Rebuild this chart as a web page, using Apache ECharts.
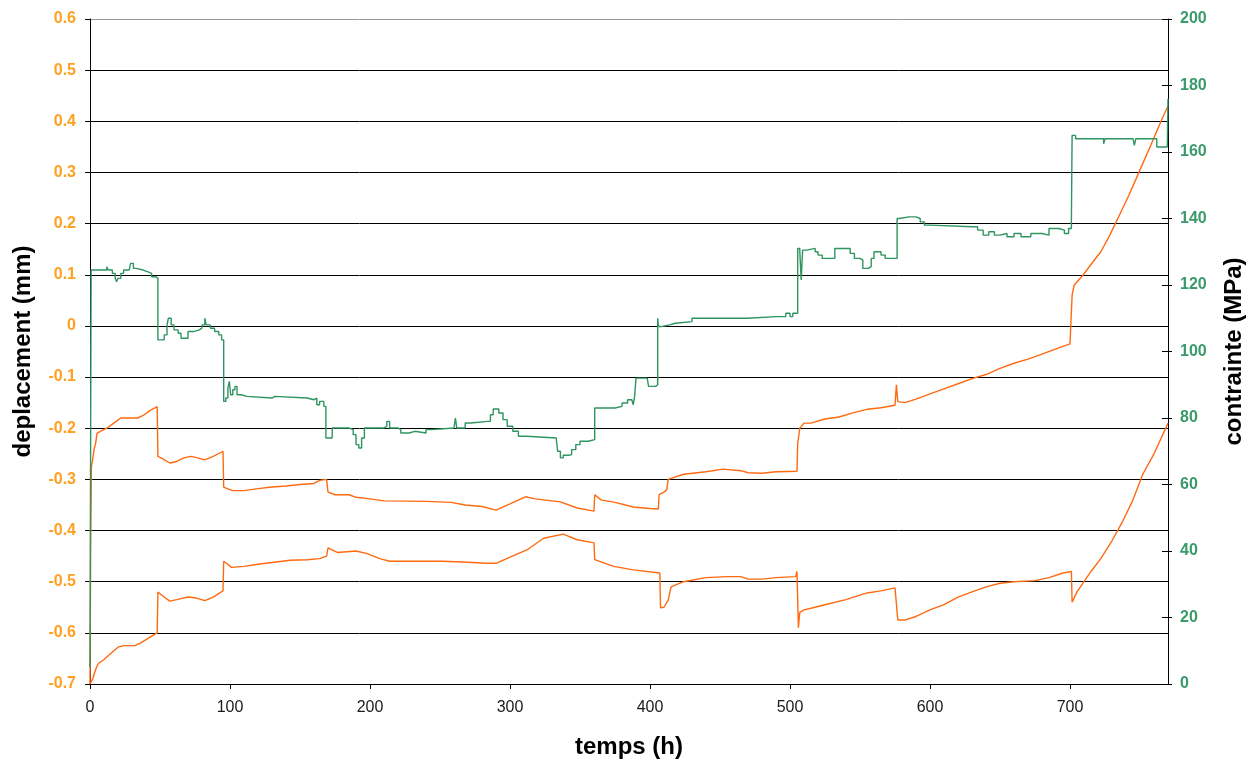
<!DOCTYPE html>
<html>
<head>
<meta charset="utf-8">
<script src="https://cdn.jsdelivr.net/npm/echarts@6/dist/echarts.min.js"></script>
<style>
html,body{margin:0;padding:0;background:#fff;}
#chart{width:1257px;height:765px;}
</style>
</head>
<body>
<div id="chart"></div>
<script>
// Axis settings (values)
const xRange = [0, 770];
const leftRange = [-0.7, 0.6];
const rightRange = [0, 200];

// contrainte (MPa) vs temps (h) - right axis (value held until next time)
const contrainte = [
[0,5],[0.8,124.5],[8,124.5],[12,125.5],[13,124.5],[16,123.5],[18,122],[19,121],[20,122],[22,123.5],[24,124.5],[28,125],[29,126.5],[31,125],[33,124.5],[38,124],[41,123.5],[44,122.5],[47,122],
[48.5,103.5],[53,105],[55,108],[56,110],[58,108],[60,106.5],[63,105.5],[65,104],[68,104],[70,106],[74,106.5],[78,107],[80,108],[82,110],[83,108],[86,107],[89,106],[92,105],[94,103.5],
[95.5,85],[97,86],[98.5,89],[99.5,91],[100.5,87],[102,88.5],[103.5,89.5],[105,87],[108,86.5],[112,86],[130,86],[131,86.5],[132,86],[155,86],[156,85.5],[160,86],[162,84],[164,85],[167,83.5],
[168.5,74],[173,77],[185,76.5],[188,75],[190,72],[192,71],[194,74],[196,77],[210,77.5],[212,79],[214,77],[220,76.5],[222,75.5],[228,76],[232,75.5],[240,76.5],[244,77],[260,77],[261,80],[262,77],[266,77],[268,78.5],[272,79],[284,79],[286,81],[288,82.7],[292,81.5],[295,79.5],[298,77.5],[302,76],[306,74.5],[312,74],
[333,74],[334,70],[336,68],[338,68.8],[342,69],[344,70.5],[347,72],[350,73],[356,73.5],
[360.5,83],[375,83.5],[380,84.5],[384,85.5],[387,86],[388,84],[389,86.5],[390,92],[398,92],[399,89.5],[404,90],
[405.5,110],[406,107.5],[408,108],[414,108.5],[418,109],[430,110],[445,110],[470,110.5],[490,110.5],[497,111.5],[500,110.5],[502,111.5],
[505.5,131],[507,130],[508,121.5],[509,130.5],[512,131],[518,130],[520,129],[523,128],[530,128],[532,131],[541,131],[543,129.5],[546,128],[550,127.5],[552,125],[556,125.5],[558,128],[560,130],[565,129],[568,128],
[576.5,140],[578,140.5],[585,140.5],[590,140],[593,139],[596,138],[600,137.5],[630,137.5],[634,136.5],[638,135],[642,136],[646,135],[650,135.5],[655,134.5],[660,135.5],[665,134.5],[672,135.5],[680,135],[685,137],[692,136.5],[696,135.5],[699,137],[701,139],
[701.5,165],[704,164],[720,164],[724,162.5],[725,164],[745,164],[746,162],[747,164],[760,164],[762,161.5],[769.5,161.5],[770,176]
];

// deplacement (mm) - upper curve, left axis
const deplacementHaut = [
[0,-0.7],[0.5,-0.42],[1,-0.275],[2,-0.26],[3,-0.24],[4,-0.23],[5,-0.21],[8,-0.205],[12,-0.2],[17,-0.19],[22,-0.18],[28,-0.18],[34,-0.18],[38,-0.175],[43,-0.165],[48,-0.158],
[48.5,-0.255],[52,-0.26],[57,-0.268],[62,-0.265],[67,-0.258],[72,-0.255],[77,-0.258],[82,-0.262],[88,-0.255],[95,-0.245],
[95.5,-0.315],[98,-0.318],[102,-0.322],[110,-0.322],[120,-0.318],[130,-0.315],[140,-0.313],[150,-0.31],[160,-0.308],[164,-0.302],[169,-0.3],
[170,-0.325],[175,-0.33],[185,-0.33],[190,-0.335],[200,-0.338],[210,-0.342],[240,-0.343],[258,-0.345],[268,-0.35],[280,-0.353],[290,-0.36],[300,-0.348],[311,-0.334],[318,-0.338],[324,-0.34],[336,-0.344],[348,-0.356],[360,-0.362],
[360.5,-0.33],[365,-0.34],[375,-0.345],[388,-0.354],[400,-0.357],[406,-0.358],[406.5,-0.33],[410,-0.325],[412,-0.32],[413,-0.3],[424,-0.29],[440,-0.285],[452,-0.28],[465,-0.283],[470,-0.287],[480,-0.288],[490,-0.285],[505,-0.284],
[505.5,-0.23],[507,-0.2],[510,-0.19],[515,-0.19],[525,-0.182],[535,-0.178],[545,-0.17],[555,-0.163],[565,-0.16],[575,-0.155],[576,-0.115],[577,-0.148],[582,-0.15],[590,-0.143],[600,-0.133],[610,-0.123],[620,-0.113],[630,-0.103],[640,-0.095],[650,-0.083],[660,-0.073],[670,-0.065],[680,-0.055],[690,-0.045],[700,-0.035],[701,-0.033],
[701.5,0.06],[703,0.08],[708,0.095],[715,0.12],[722,0.145],[728,0.175],[735,0.215],[742,0.255],[750,0.305],[758,0.355],[765,0.4],[770,0.43]
];

// deplacement (mm) - lower curve, left axis
const deplacementBas = [
[0,-0.7],[1,-0.7],[2,-0.69],[3,-0.68],[5,-0.665],[6,-0.66],[10,-0.652],[15,-0.64],[20,-0.628],[24,-0.625],[32,-0.625],[36,-0.62],[42,-0.61],[48,-0.6],
[48.5,-0.52],[52,-0.528],[57,-0.538],[62,-0.535],[70,-0.53],[76,-0.532],[82,-0.537],[88,-0.53],[95,-0.518],
[95.5,-0.46],[98,-0.465],[101,-0.472],[110,-0.47],[120,-0.466],[143,-0.458],[155,-0.457],[164,-0.455],[169,-0.45],
[170,-0.434],[177,-0.443],[190,-0.44],[198,-0.445],[207,-0.455],[214,-0.46],[252,-0.46],[270,-0.462],[283,-0.464],[290,-0.464],[300,-0.452],[312,-0.438],[324,-0.415],[338,-0.407],[348,-0.418],[360,-0.424],
[360.5,-0.457],[374,-0.47],[388,-0.477],[407,-0.483],[407.5,-0.551],[410,-0.55],[413,-0.536],[415,-0.51],[424,-0.5],[440,-0.492],[455,-0.49],[465,-0.49],[470,-0.495],[480,-0.495],[490,-0.492],[504,-0.49],[505,-0.48],
[506,-0.59],[507,-0.56],[510,-0.555],[515,-0.552],[525,-0.545],[540,-0.535],[555,-0.522],[565,-0.518],[575,-0.512],
[577,-0.575],[582,-0.575],[590,-0.568],[600,-0.555],[610,-0.545],[620,-0.53],[630,-0.52],[640,-0.51],[650,-0.503],[660,-0.5],[675,-0.498],[685,-0.492],[695,-0.483],[701,-0.48],
[701.5,-0.54],[705,-0.52],[710,-0.5],[715,-0.48],[722,-0.455],[730,-0.42],[738,-0.38],[745,-0.34],[752,-0.29],[760,-0.25],[765,-0.22],[770,-0.19]
];

const ORANGE_LINE = '#FF6A10';
const ORANGE_TEXT = '#FFA020';
const GREEN_LINE = '#2E9560';
const GREEN_TEXT = '#3A9A6A';
const FONT = '"Liberation Sans", Arial, sans-serif';
const gridColors = ['#000','#000','#000','#000','#000','#000','#000','#000','#000','#000','#000','#000','#000','#999'];

const chart = echarts.init(document.getElementById('chart'), null, {renderer: 'canvas'});
chart.setOption({
  animation: false,
  backgroundColor: '#fff',
  grid: {left: 90, right: 89, top: 19, bottom: 81, containLabel: false},
  xAxis: {
    type: 'value', min: xRange[0], max: xRange[1], interval: 100,
    name: 'temps (h)', nameLocation: 'middle', nameGap: 51,
    nameTextStyle: {fontFamily: FONT, fontWeight: 'bold', fontSize: 24, color: '#000'},
    axisLine: {show: true, onZero: false, lineStyle: {color: '#000', width: 1}},
    axisTick: {show: true, length: 5, lineStyle: {color: '#000'}},
    axisLabel: {fontFamily: FONT, fontSize: 16, color: '#1a1a1a', margin: 16, showMaxLabel: false},
    splitLine: {show: false}
  },
  yAxis: [
    {
      type: 'value', min: leftRange[0], max: leftRange[1], interval: 0.1, position: 'left',
      name: 'deplacement (mm)', nameLocation: 'middle', nameGap: 55,
      nameTextStyle: {fontFamily: FONT, fontWeight: 'bold', fontSize: 24, color: '#000'},
      axisLine: {show: true, onZero: false, lineStyle: {color: '#000', width: 1}},
      axisTick: {show: true, length: 5, lineStyle: {color: '#000'}},
      axisLabel: {fontFamily: FONT, fontSize: 16, fontWeight: 'bold', color: ORANGE_TEXT, margin: 14,
        formatter: v => Math.abs(v) < 1e-9 ? '0' : v.toFixed(1)},
      splitLine: {show: true, lineStyle: {color: gridColors, width: 1}}
    },
    {
      type: 'value', min: rightRange[0], max: rightRange[1], interval: 20, position: 'right',
      name: 'contrainte (MPa)', nameLocation: 'middle', nameGap: 54, nameRotate: 90,
      nameTextStyle: {fontFamily: FONT, fontWeight: 'bold', fontSize: 24, color: '#000'},
      axisLine: {show: true, onZero: false, lineStyle: {color: '#000', width: 1}},
      axisTick: {show: true, length: 4, lineStyle: {color: '#000'}},
      axisLabel: {fontFamily: FONT, fontSize: 16, fontWeight: 'bold', color: GREEN_TEXT, margin: 12},
      splitLine: {show: false}
    },
    {
      type: 'value', min: rightRange[0], max: rightRange[1], interval: 20, position: 'right',
      axisLine: {show: false, onZero: false},
      axisTick: {show: true, inside: true, length: 6, lineStyle: {color: '#000'}},
      axisLabel: {show: false},
      splitLine: {show: false}
    }
  ],
  series: [
    {type: 'line', name: 'deplacement haut', yAxisIndex: 0, data: deplacementHaut, showSymbol: false, symbol: 'none',
      lineStyle: {color: ORANGE_LINE, width: 1.4}, z: 3},
    {type: 'line', name: 'deplacement bas', yAxisIndex: 0, data: deplacementBas, showSymbol: false, symbol: 'none',
      lineStyle: {color: ORANGE_LINE, width: 1.4}, z: 3},
    {type: 'line', name: 'contrainte', yAxisIndex: 1, data: contrainte, step: 'end', showSymbol: false, symbol: 'none',
      lineStyle: {color: GREEN_LINE, width: 1.4}, z: 4}
  ]
});
</script>
</body>
</html>
